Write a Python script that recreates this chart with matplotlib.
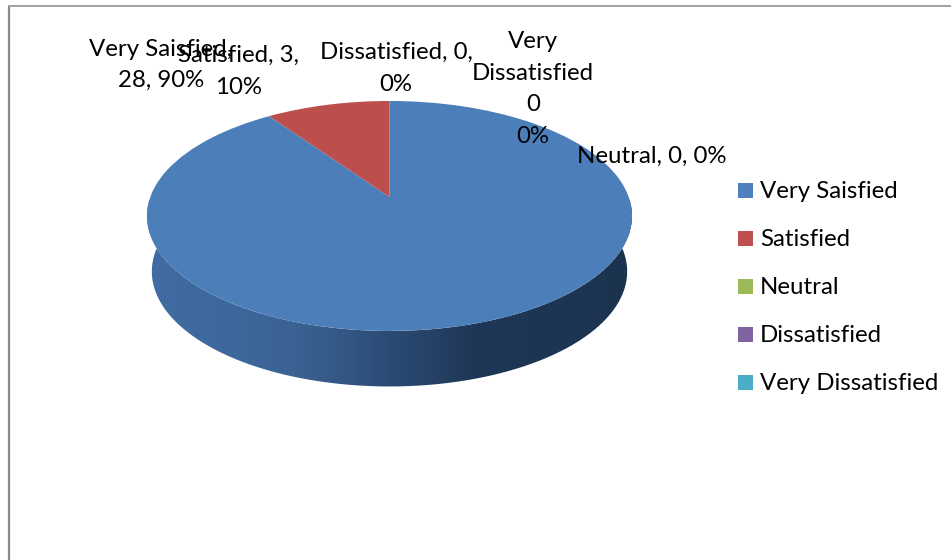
import numpy as np
import matplotlib
matplotlib.use("Agg")
import matplotlib.pyplot as plt
from matplotlib.colors import LinearSegmentedColormap
from matplotlib.patches import PathPatch, Rectangle
from matplotlib.path import Path
from matplotlib.transforms import Transform

categories = ["Very Saisfied", "Satisfied", "Neutral", "Dissatisfied", "Very Dissatisfied"]
values = [28, 3, 0, 0, 0]
colors = ["#4F81BD", "#C0504D", "#9BBB59", "#8064A2", "#4BACC6"]
pie_colors = ["#4C7EBA", "#BC4F4C", "#9BBB59", "#8064A2", "#4BACC6"]
data_labels = [
    "Very Saisfied,\n28, 90%",
    "Satisfied, 3,\n10%",
    "Neutral, 0, 0%",
    "Dissatisfied, 0,\n0%",
    "Very\nDissatisfied\n0\n0%",
]
label_pos = [(161, 65), (239, 71.5), (652, 156), (396, 68.5), (533, 89)]
legend_y = [190, 238, 286.5, 334.5, 382.5]

plt.rcParams["font.family"] = ["Lato", "DejaVu Sans"]
FS = 17.3
W, H_ = 951, 560
fig = plt.figure(figsize=(W / 100, H_ / 100), dpi=100, facecolor="white")
ax = fig.add_axes([0, 0, 1, 1])


class Tilt(Transform):
    """Perspective view of the unit pie, in pixel coordinates."""
    input_dims = output_dims = 2

    def __init__(self, shift=0.0, xscale=1.0):
        super().__init__()
        self.shift, self.xscale = shift, xscale

    def transform_non_affine(self, xy):
        xy = np.asarray(xy, float)
        k, a, b, c = 0.165, 115.0, 19.0, 239.2
        w = 1 + k * xy[:, 1]
        return np.column_stack([
            389.5 + self.xscale * c * xy[:, 0] / w,
            216.0 - (a * xy[:, 1] + b) / w + self.shift,
        ])


wedges, _ = ax.pie(values, colors=pie_colors, startangle=90, counterclock=False,
                   radius=1, wedgeprops={"linewidth": 0})
ax.set_aspect("auto")
ax.set_xlim(0, W)
ax.set_ylim(H_, 0)
ax.set_axis_off()

top = Tilt()
for w in wedges:
    w.set_transform(top + ax.transData)
    w.set_zorder(3)

# Side wall of the pie, with its left-to-right shading
t = np.radians(np.linspace(170, 370, 300))
circle = np.column_stack([np.cos(t), np.sin(t)])
upper = top.transform(circle)
lower = Tilt(shift=55.5, xscale=0.98).transform(circle)
side = PathPatch(Path(np.vstack([upper, lower[::-1], upper[:1]])),
                 facecolor="none", edgecolor="none", transform=ax.transData)
ax.add_patch(side)
shade = LinearSegmentedColormap.from_list("side", [
    (0.00, "#406CA3"), (0.18, "#3C689C"), (0.32, "#3A6191"),
    (0.50, "#2B4B75"), (0.68, "#1F3756"), (1.00, "#1C3350"),
])
im = ax.imshow(np.linspace(0, 1, 485)[None, :], cmap=shade, vmin=0, vmax=1,
               extent=(147, 632, 400, 200), aspect="auto", zorder=2,
               interpolation="bilinear")
im.set_clip_path(side)
ax.set_xlim(0, W)
ax.set_ylim(H_, 0)

# Chart frame
ax.plot([9, 9], [6, H_], color="#8A8A8A", lw=1.6, solid_capstyle="butt", zorder=1)
ax.plot([8.2, W], [6.2, 6.2], color="#A0A0A0", lw=1.4, solid_capstyle="butt", zorder=1)

# Data labels
for text, (x, y) in zip(data_labels, label_pos):
    ax.text(x, y, text, ha="center", va="center", fontsize=FS, color="black",
            linespacing=1.62, zorder=5)

# Legend
for name, col, y in zip(categories, colors, legend_y):
    ax.add_patch(Rectangle((738, y - 7.5), 15, 15, facecolor=col, edgecolor="none", zorder=4))
    ax.text(760, y + 1, name, ha="left", va="center", fontsize=FS, color="black", zorder=5)

fig.savefig("out.png", dpi=100, facecolor="white")
